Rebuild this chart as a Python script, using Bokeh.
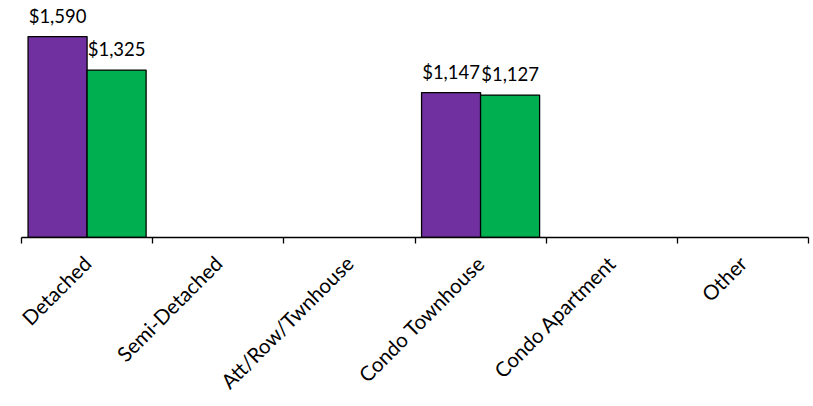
import math
import numpy as np
from bokeh.plotting import figure
from bokeh.models import FixedTicker, ColumnDataSource
from bokeh.core.properties import value
from bokeh.embed import file_html
from bokeh.resources import INLINE

categories = ["Detached", "Semi-Detached", "Att/Row/Twnhouse", "Condo Townhouse", "Condo Apartment", "Other"]
series_a = [1590, None, None, 1147, None, None]   # purple series
series_b = [1325, None, None, 1127, None, None]   # green series

FONT = "Lato"
PURPLE = "#7030A0"
GREEN = "#00B050"

p = figure(width=810, height=406, output_backend="svg", toolbar_location=None,
           x_range=(0, len(categories)), y_range=(0, 1812),
           y_axis_location=None, min_border_left=21, min_border_right=2,
           min_border_top=8, min_border_bottom=169)
p.outline_line_color = None
p.xgrid.visible = False
p.ygrid.visible = False
p.background_fill_color = "white"
p.border_fill_color = "white"

idx = np.arange(len(categories)) + 0.5
a = np.array([np.nan if v is None else v for v in series_a], dtype=float)
b = np.array([np.nan if v is None else v for v in series_b], dtype=float)
bw = 0.45

for vals, off, col in ((a, -bw / 2, PURPLE), (b, bw / 2, GREEN)):
    mask = ~np.isnan(vals)
    src = ColumnDataSource(dict(x=idx[mask] + off, top=vals[mask],
                                lbl=["${:,.0f}".format(v) for v in vals[mask]]))
    p.vbar(x="x", top="top", bottom=0, width=bw, source=src,
           fill_color=col, line_color="black", line_width=1.3)
    p.text(x="x", y="top", text="lbl", source=src, text_align="center",
           text_baseline="bottom", y_offset=-10, text_font=value(FONT),
           text_font_size="18.5px", text_color="black")

ax = p.xaxis[0]
ax.ticker = FixedTicker(ticks=list(idx), minor_ticks=list(range(len(categories) + 1)))
ax.major_label_overrides = {float(x): c for x, c in zip(idx, categories)}
ax.major_tick_out = 0
ax.major_tick_in = 0
ax.minor_tick_out = 6
ax.minor_tick_in = 0
ax.minor_tick_line_color = "black"
ax.minor_tick_line_width = 1.3
ax.axis_line_color = "black"
ax.axis_line_width = 1.3
ax.major_label_orientation = math.pi / 4
ax.major_label_text_font = FONT
ax.major_label_text_font_size = "20.5px"
ax.major_label_text_color = "black"
ax.major_label_standoff = 16

open("out.html", "w").write(file_html(p, INLINE))
